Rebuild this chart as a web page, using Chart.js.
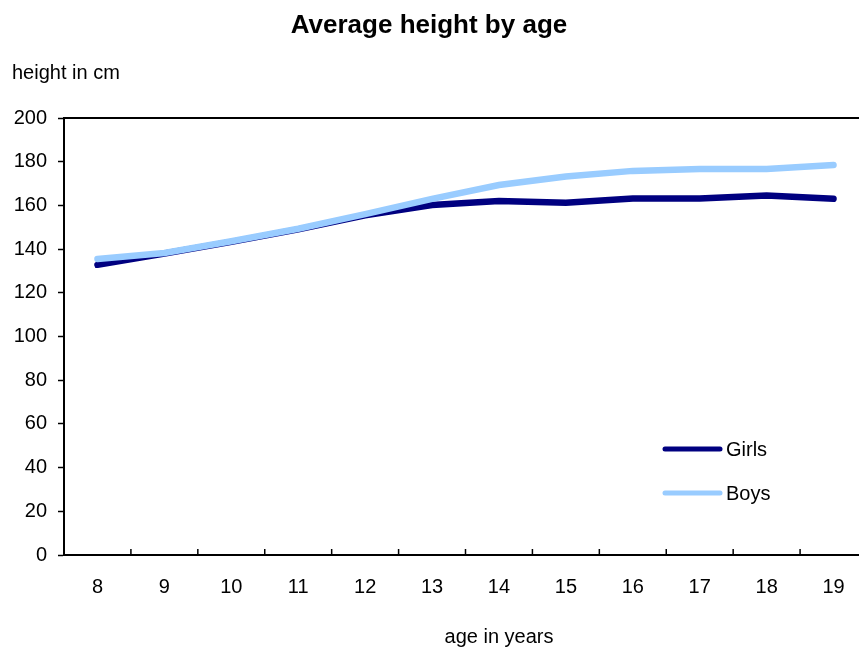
<!DOCTYPE html>
<html lang="en">
<head>
    <meta charset="UTF-8">
    <title>Average height by age</title>
    <script src="https://cdn.jsdelivr.net/npm/chart.js"></script>
    <style>
        body {
            margin: 0;
            background-color: #ffffff;
            overflow: hidden;
        }
        #wrap {
            width: 868px;
            height: 650px;
        }
    </style>
</head>
<body>
    <div id="wrap">
        <canvas id="chart" width="868" height="650"></canvas>
    </div>

    <script>
        // data
        const ages = ['8', '9', '10', '11', '12', '13', '14', '15', '16', '17', '18', '19'];
        const girls = [132.8, 138, 143.3, 149, 155.5, 160.2, 162, 161.2, 163.2, 163.2, 164.5, 163];
        const boys = [135.5, 138.2, 143.6, 149.3, 156, 163, 169.3, 173.2, 175.8, 176.7, 176.7, 178.5];

        const FONT = '"Liberation Sans", Arial, Helvetica, sans-serif';

        // title, axis captions, legend, inward x ticks and top frame line
        const decorations = {
            id: 'decorations',
            afterDraw(chart) {
                const ctx = chart.ctx;
                const area = chart.chartArea;
                const x = chart.scales.x;
                ctx.save();

                // frame top
                ctx.strokeStyle = '#000000';
                ctx.lineWidth = 2;
                ctx.beginPath();
                ctx.moveTo(area.left, area.top);
                ctx.lineTo(area.right, area.top);
                ctx.stroke();

                // inward ticks between categories
                ctx.lineWidth = 1.5;
                for (let i = 0; i < ages.length - 1; i++) {
                    const px = (x.getPixelForValue(i) + x.getPixelForValue(i + 1)) / 2;
                    ctx.beginPath();
                    ctx.moveTo(px, area.bottom);
                    ctx.lineTo(px, area.bottom - 6);
                    ctx.stroke();
                }

                ctx.fillStyle = '#000000';
                ctx.textBaseline = 'middle';

                ctx.font = 'bold 26px ' + FONT;
                ctx.textAlign = 'center';
                ctx.fillText('Average height by age', 429, 26);

                ctx.font = '20px ' + FONT;
                ctx.textAlign = 'left';
                ctx.fillText('height in cm', 12, 73);

                ctx.textAlign = 'center';
                ctx.fillText('age in years', 499, 637);

                // legend
                const items = chart.data.datasets;
                items.forEach((ds, i) => {
                    const ly = 449 + i * 44;
                    ctx.strokeStyle = ds.borderColor;
                    ctx.lineWidth = 5;
                    ctx.lineCap = 'round';
                    ctx.beginPath();
                    ctx.moveTo(665, ly);
                    ctx.lineTo(720, ly);
                    ctx.stroke();
                    ctx.fillStyle = '#000000';
                    ctx.textAlign = 'left';
                    ctx.font = '20px ' + FONT;
                    ctx.fillText(ds.label, 726, ly + 1);
                });

                ctx.restore();
            }
        };

        new Chart(document.getElementById('chart').getContext('2d'), {
            type: 'line',
            data: {
                labels: ages,
                datasets: [{
                    label: 'Girls',
                    data: girls,
                    order: 2,
                    borderColor: '#000080',
                    borderWidth: 6.5,
                    borderCapStyle: 'round',
                    pointRadius: 0,
                    tension: 0,
                    fill: false
                }, {
                    label: 'Boys',
                    data: boys,
                    order: 1,
                    borderColor: '#99ccff',
                    borderWidth: 6.5,
                    borderCapStyle: 'round',
                    pointRadius: 0,
                    tension: 0,
                    fill: false
                }]
            },
            options: {
                responsive: false,
                animation: false,
                layout: {
                    padding: { top: 118, left: 0, right: 1, bottom: 0 }
                },
                plugins: {
                    legend: { display: false },
                    title: { display: false },
                    tooltip: { enabled: false }
                },
                scales: {
                    x: {
                        type: 'category',
                        offset: true,
                        afterFit: s => { s.height = 95; },
                        grid: {
                            display: true,
                            drawOnChartArea: false,
                            drawTicks: false,
                            offset: true,
                            color: 'rgba(0,0,0,0)'
                        },
                        border: { display: true, color: '#000000', width: 2 },
                        ticks: {
                            color: '#000000',
                            font: { family: FONT, size: 20 },
                            padding: 20,
                            maxRotation: 0,
                            autoSkip: false
                        }
                    },
                    y: {
                        min: 0,
                        max: 200,
                        afterFit: s => { s.width = 64; },
                        grid: {
                            drawOnChartArea: false,
                            drawTicks: true,
                            tickLength: 6,
                            tickWidth: 1.5,
                            color: '#000000'
                        },
                        border: { display: true, color: '#000000', width: 2 },
                        ticks: {
                            stepSize: 20,
                            color: '#000000',
                            font: { family: FONT, size: 20 },
                            padding: 11
                        }
                    }
                }
            },
            plugins: [decorations]
        });
    </script>
</body>
</html>
